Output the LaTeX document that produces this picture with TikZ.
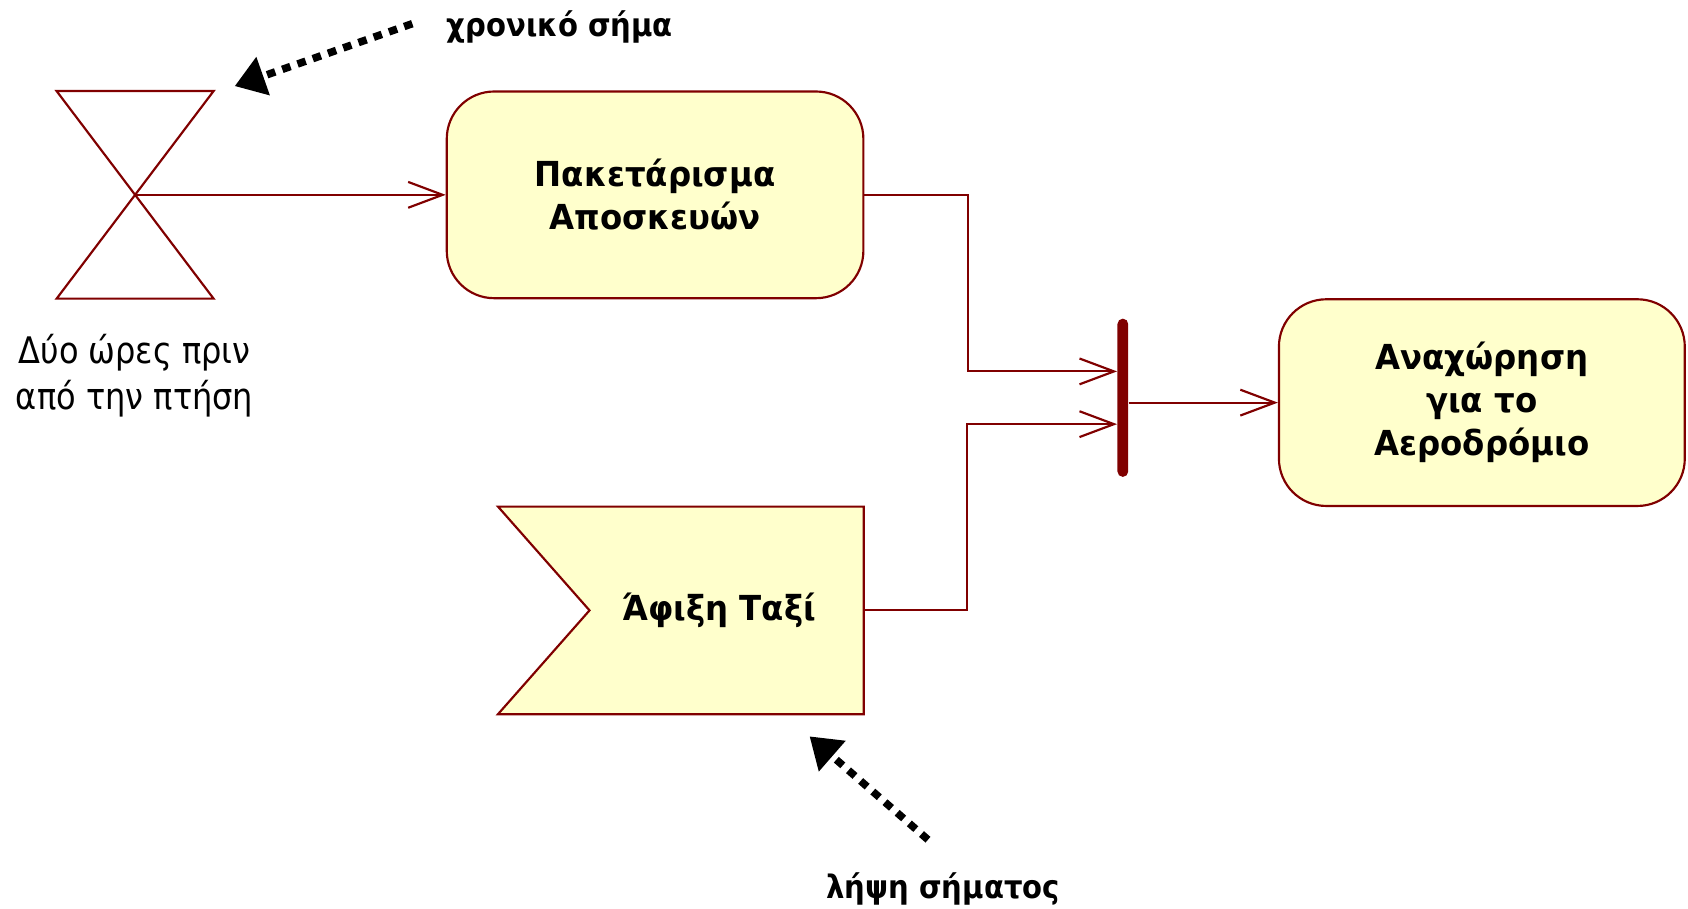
\documentclass[tikz,border=0pt]{standalone}
\usepackage{fontspec}
\setmainfont{DejaVu Sans}
\newfontfamily\boxfont{DejaVu Sans}[FakeStretch=0.94]
\newfontfamily\notefont{DejaVu Sans}[FakeStretch=0.875]
\newfontfamily\hintfont{DejaVu Sans}[FakeStretch=0.9]
\usetikzlibrary{arrows.meta,calc,backgrounds}

\definecolor{umlred}{HTML}{800000}
\definecolor{umlfill}{HTML}{FFFFCC}

\begin{document}
\begin{tikzpicture}[x=0.5pt,y=-0.5pt,
  actbox/.style={draw=umlred, fill=umlfill, line width=1pt, rounded corners=22pt,
    font=\boxfont\bfseries\fontsize{16}{20}\selectfont, align=center, inner sep=0pt},
  boxtext/.style={font=\boxfont\bfseries\fontsize{16}{20}\selectfont, align=center, inner sep=0pt},
  outline/.style={draw=umlred, line width=1pt},
  flow/.style={draw=umlred, line width=1pt, -{Straight Barb[length=16pt,width=12pt]}},
  hint/.style={draw=black, line width=3.5pt, dash pattern=on 4pt off 3.5pt,
    -{Triangle[length=14pt,width=18pt]}},
  hinttext/.style={font=\hintfont\bfseries\fontsize{15}{18}\selectfont, inner sep=0pt},
  notetext/.style={font=\notefont\fontsize{17}{21}\selectfont, align=center, inner sep=0pt}]

\useasboundingbox (0,0) rectangle (1568,844);

% time event (hourglass)
\node[minimum width=72.5pt, minimum height=96pt, inner sep=0pt] (timer) at (125.5,181) {};
\draw[outline] (timer.north west) -- (timer.north east) -- (timer.south west)
  -- (timer.south east) -- cycle;
\node[notetext] (timerlbl) at (125,349) {Δύο ώρες πριν\\από την πτήση};

% actions
\node[actbox, minimum width=193.5pt, minimum height=96pt] (pack) at (608.5,181)
  {Πακετάρισμα\\Αποσκευών};
\node[actbox, minimum width=188.5pt, minimum height=96pt] (depart) at (1376.5,374)
  {Αναχώρηση\\για το\\Αεροδρόμιο};

% accept signal
\node[minimum width=169.5pt, minimum height=96pt, inner sep=0pt] (taxi) at (632.5,567) {};
\node[boxtext] (taxitext) at (668,567) {Άφιξη Ταξί};
\begin{scope}[on background layer]
  \draw[outline, fill=umlfill] (taxi.north west) -- (taxi.north east) -- (taxi.south east)
    -- (taxi.south west) -- ($(taxi.west)+(85,0)$) -- cycle;
\end{scope}

% join bar
\node[fill=umlred, minimum width=5pt, minimum height=73.5pt, inner sep=0pt,
  rounded corners=2.5pt] (join) at (1043,369.5) {};

% flows
\draw[flow] (timer.center) -- (pack.west);
\draw[flow] (pack.east) -- ++(96,0) |- ($(join.west)+(0,-24.5)$);
\draw[flow] (taxi.east) -- ++(96,0) |- ($(join.west)+(0,24.5)$);
\draw[flow] (join.east |- depart.west) -- (depart.west);

% annotations
\node[hinttext] (timehint) at (520,25) {χρονικό σήμα};
\coordinate (timehintfrom) at (383,22);
\coordinate (timehintto) at (218,80);
\draw[hint] (timehintfrom) -- (timehintto);

\node[hinttext] (sighint) at (876,826) {λήψη σήματος};
\coordinate (sighintfrom) at (862,780);
\coordinate (sighintto) at (752,684);
\draw[hint] (sighintfrom) -- (sighintto);

\end{tikzpicture}
\end{document}
